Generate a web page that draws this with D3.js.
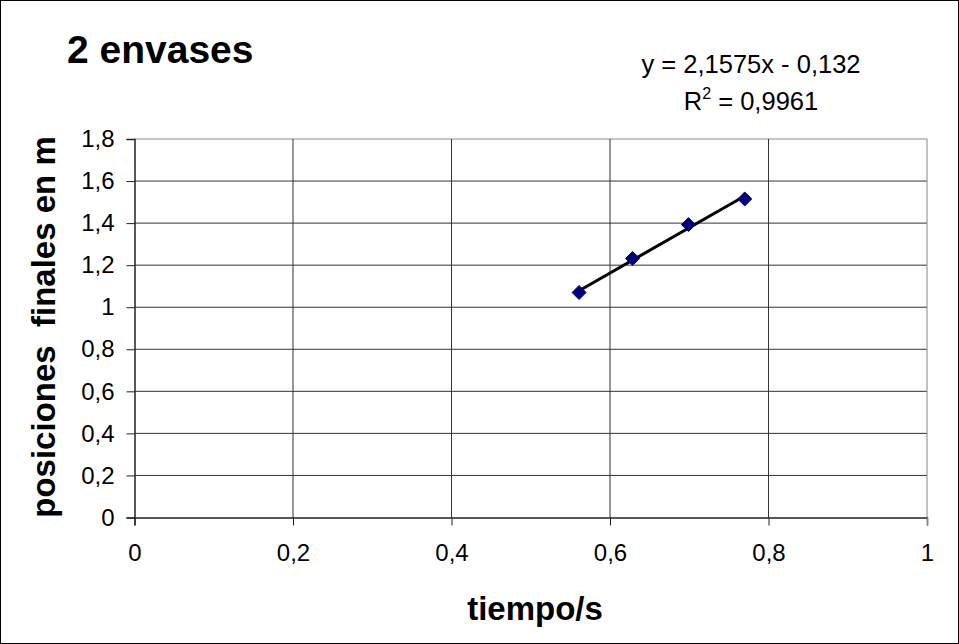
<!DOCTYPE html>
<html>
<head>
<meta charset="utf-8">
<script src="https://cdn.jsdelivr.net/npm/d3@7"></script>
<style>
  body { margin: 0; background: #fff; }
  text { font-family: Arial, "Liberation Sans", sans-serif; }
</style>
</head>
<body>
<svg id="graf" width="959" height="644"></svg>
<script>
"use strict";

// datos
var tiempos = [0.561, 0.6285, 0.699, 0.770];
var posiciones = [1.07, 1.232, 1.393, 1.515];
var ticksX = [0, 0.2, 0.4, 0.6, 0.8, 1];
var ticksY = [0, 0.2, 0.4, 0.6, 0.8, 1, 1.2, 1.4, 1.6, 1.8];
var pendiente = 2.1575, ordenada = -0.132;

var svg = d3.select("#graf");
var coma = function(d) { return String(d).replace(".", ","); };

// marco exterior
svg.append("rect").attr("x", 0.5).attr("y", 0.5).attr("width", 958).attr("height", 643)
    .attr("fill", "#fff").attr("stroke", "#000");

var x = d3.scaleLinear().domain([0, 1]).range([134.5, 927]);
var y = d3.scaleLinear().domain([0, 1.8]).range([517.5, 139]);

// rejilla
svg.append("g").selectAll("line").data(ticksY.slice(1)).enter().append("line")
    .attr("x1", x(0)).attr("x2", x(1))
    .attr("y1", function(d) { return y(d); }).attr("y2", function(d) { return y(d); })
    .attr("stroke", function(d) { return d === 1.8 ? "#888" : "#333"; }).attr("stroke-width", 1);
svg.append("g").selectAll("line").data(ticksX.slice(1)).enter().append("line")
    .attr("y1", y(0)).attr("y2", y(1.8))
    .attr("x1", function(d) { return x(d); }).attr("x2", function(d) { return x(d); })
    .attr("stroke", function(d) { return d === 1 ? "#888" : "#333"; }).attr("stroke-width", 1);

// ejes
var ejeX = d3.axisBottom(x).tickValues(ticksX).tickSize(8).tickPadding(18).tickFormat(coma);
var ejeY = d3.axisLeft(y).tickValues(ticksY).tickSize(8).tickPadding(12).tickFormat(coma);

var gx = svg.append("g").attr("transform", "translate(0," + y(0) + ")").call(ejeX);
var gy = svg.append("g").attr("transform", "translate(" + x(0) + ",0)").call(ejeY);
[gx, gy].forEach(function(g) {
    g.selectAll("path").attr("stroke", "#222").attr("stroke-width", 1.5);
    g.selectAll("line").attr("stroke", "#222");
    g.selectAll("text").attr("font-size", 24).attr("fill", "#000")
        .style("font-family", "Arial, 'Liberation Sans', sans-serif");
});
gx.select(".tick:last-of-type line").attr("stroke", "#888");

// linea de tendencia
var xMin = d3.min(tiempos), xMax = d3.max(tiempos);
svg.append("line")
    .attr("x1", x(xMin)).attr("y1", y(pendiente * xMin + ordenada))
    .attr("x2", x(xMax)).attr("y2", y(pendiente * xMax + ordenada))
    .attr("stroke", "#000").attr("stroke-width", 3);

// puntos (rombos)
svg.append("g").selectAll("path").data(tiempos).enter().append("path")
    .attr("d", "M0,-7L7,0L0,7L-7,0Z")
    .attr("transform", function(d, i) { return "translate(" + x(d) + "," + y(posiciones[i]) + ")"; })
    .attr("fill", "#000080").attr("stroke", "#000080");

// textos
svg.append("text").attr("x", 67).attr("y", 63).attr("font-size", 39).attr("font-weight", "bold")
    .text("2 envases");

svg.append("text").attr("x", 751).attr("y", 73).attr("font-size", 25.5).attr("text-anchor", "middle")
    .text("y = 2,1575x - 0,132");
var r2 = svg.append("text").attr("x", 751).attr("y", 110).attr("font-size", 25.5).attr("text-anchor", "middle");
r2.append("tspan").text("R");
r2.append("tspan").attr("font-size", 16).attr("dy", -11).text("2");
r2.append("tspan").attr("dy", 11).text(" = 0,9961");

svg.append("text").attr("x", 535).attr("y", 620).attr("font-size", 33).attr("font-weight", "bold")
    .attr("text-anchor", "middle").text("tiempo/s");

svg.append("text").attr("transform", "translate(55,327) rotate(-90)").attr("font-size", 33)
    .attr("font-weight", "bold").attr("text-anchor", "middle").attr("xml:space", "preserve")
    .text("posiciones  finales en m");
</script>
</body>
</html>
